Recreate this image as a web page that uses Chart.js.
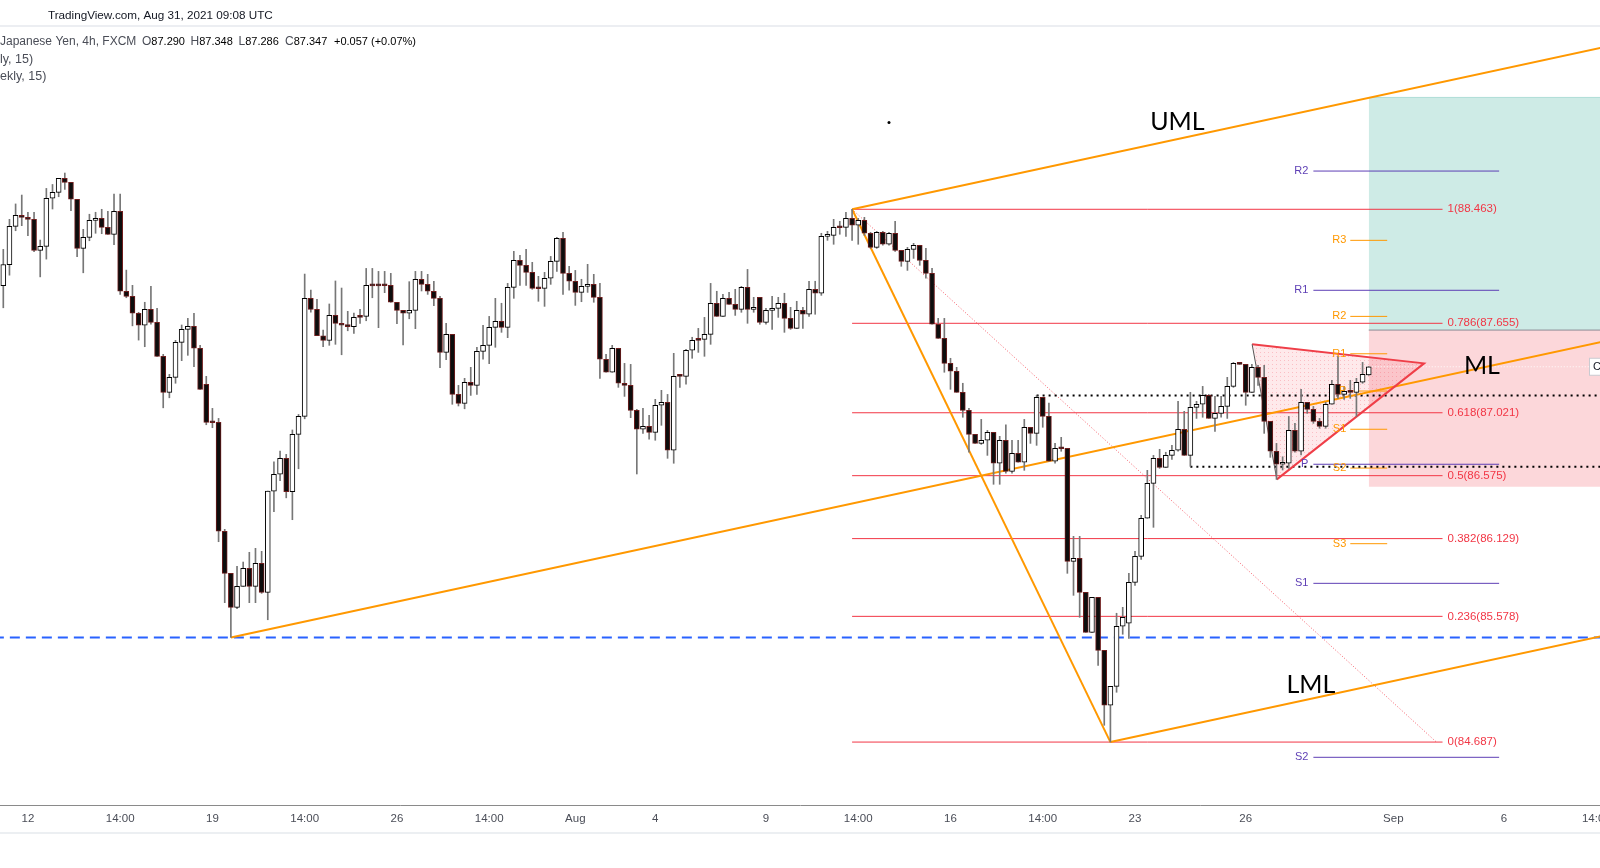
<!DOCTYPE html>
<html><head><meta charset="utf-8">
<script src="https://cdn.jsdelivr.net/npm/chart.js@4.4.1/dist/chart.umd.min.js"></script>
<style>html,body{margin:0;padding:0;background:#fff;overflow:hidden}#wrap{width:1600px;height:868px;position:relative}</style>
</head><body><div id="wrap"><canvas id="c"></canvas></div>
<script>
// ---- candle data (CAD/JPY 4h, FXCM) ----
const OPEN = [87.922,88.070,88.342,88.420,88.406,88.392,88.172,88.200,88.541,88.583,88.682,88.654,88.534,88.186,88.264,88.385,88.399,88.335,88.285,88.449,
87.882,87.846,87.726,87.641,87.754,87.662,87.421,87.166,87.272,87.520,87.612,87.634,87.478,87.223,86.953,86.953,86.181,85.883,85.642,85.791,
85.918,85.791,85.954,85.748,86.466,86.585,86.698,86.461,86.868,86.995,87.832,87.754,87.567,87.534,87.711,87.655,87.641,87.631,87.701,87.704,
87.924,87.924,87.933,87.924,87.804,87.747,87.726,87.747,87.967,87.931,87.882,87.832,87.449,87.577,87.151,87.088,87.237,87.215,87.456,87.499,
87.626,87.669,87.626,87.910,88.101,88.066,88.016,87.903,87.903,87.974,88.094,88.257,88.009,87.953,87.874,87.917,87.931,87.839,87.400,87.308,
87.478,87.230,87.215,87.038,86.904,86.925,86.882,87.074,87.095,86.755,87.286,87.279,87.464,87.541,87.541,87.577,87.797,87.704,87.832,87.789,
87.754,87.910,87.754,87.839,87.662,87.747,87.761,87.797,87.690,87.619,87.747,87.719,87.896,87.868,88.271,88.278,88.335,88.335,88.399,88.350,
88.385,88.293,88.193,88.300,88.215,88.293,88.172,88.094,88.179,88.208,88.101,88.009,87.648,87.548,87.371,87.315,87.166,87.038,86.868,86.804,
86.826,86.882,86.663,86.826,86.606,86.733,86.670,86.918,86.875,87.130,86.995,86.677,86.769,86.769,85.968,85.989,85.748,85.465,85.713,85.337,
84.948,85.082,85.508,85.529,85.819,86.003,86.273,86.521,86.698,86.634,86.719,86.755,86.904,86.719,87.059,87.081,87.144,86.981,87.017,87.066,
87.208,87.371,87.364,87.166,87.343,87.272,86.960,86.748,86.656,86.663,86.896,86.748,87.095,87.045,86.960,86.925,87.081,87.223,87.151,87.173,
87.166,87.237,87.290];
const HIGH = [88.179,88.392,88.501,88.564,88.442,88.442,88.245,88.611,88.639,88.682,88.720,88.654,88.534,88.321,88.428,88.442,88.463,88.449,88.571,88.571,
88.032,87.924,87.733,87.804,87.917,87.761,87.435,87.293,87.534,87.643,87.690,87.726,87.499,87.279,87.052,86.981,86.195,85.883,85.933,85.963,
86.032,86.060,86.039,86.466,86.674,86.750,86.726,86.899,87.009,88.004,87.891,87.825,87.607,87.792,87.955,87.905,87.740,87.728,87.754,88.044,
88.044,88.023,88.023,88.009,87.804,87.747,87.950,88.023,88.023,88.002,87.953,87.846,87.655,87.577,87.215,87.265,87.343,87.485,87.641,87.704,
87.832,87.797,87.938,88.165,88.136,88.179,88.087,87.988,88.016,88.129,88.264,88.300,88.059,88.030,87.967,88.073,88.002,87.938,87.435,87.499,
87.478,87.371,87.364,87.045,87.052,87.002,87.116,87.180,87.151,87.442,87.286,87.471,87.556,87.619,87.697,87.938,87.882,87.860,87.875,87.896,
87.917,88.037,87.839,87.839,87.761,87.846,87.839,87.868,87.768,87.811,87.768,87.953,87.953,88.293,88.307,88.392,88.378,88.442,88.463,88.399,
88.406,88.300,88.307,88.307,88.300,88.378,88.172,88.193,88.222,88.208,88.186,88.044,87.690,87.690,87.407,87.343,87.230,87.052,86.868,86.974,
86.896,86.882,86.854,86.936,86.826,86.826,86.974,86.918,87.144,87.130,87.090,86.804,86.847,86.769,86.145,86.145,85.748,85.713,85.713,85.337,
85.082,85.600,85.642,85.883,86.039,86.294,86.613,86.719,86.762,86.741,86.790,87.102,87.031,87.166,87.102,87.208,87.151,87.137,87.137,87.272,
87.378,87.378,87.364,87.364,87.357,87.357,86.960,86.804,86.709,86.995,86.946,87.187,87.095,87.066,86.981,87.095,87.251,87.423,87.208,87.251,
87.265,87.378,87.348];
const LOW = [87.765,87.996,88.311,88.347,88.276,88.162,87.984,88.110,88.465,88.552,88.604,88.453,88.127,88.013,88.240,88.293,88.290,88.285,88.212,87.860,
87.836,87.637,87.536,87.489,87.648,87.421,87.056,87.127,87.230,87.390,87.428,87.347,87.187,86.936,86.915,86.107,85.675,85.428,85.632,85.791,
85.675,85.675,85.741,85.554,86.320,86.539,86.418,86.263,86.624,86.978,87.733,87.567,87.489,87.499,87.506,87.432,87.602,87.584,87.655,87.673,
87.836,87.624,87.872,87.804,87.652,87.501,87.687,87.617,87.884,87.860,87.780,87.340,87.397,87.081,87.069,87.049,87.144,87.151,87.400,87.369,
87.485,87.591,87.553,87.832,87.924,87.924,87.896,87.811,87.775,87.931,88.023,87.860,87.889,87.782,87.808,87.874,87.804,87.265,87.308,87.308,
87.201,87.137,86.986,86.587,86.875,86.833,86.826,86.932,86.698,86.663,87.201,87.223,87.407,87.449,87.421,87.506,87.704,87.704,87.789,87.711,
87.733,87.655,87.733,87.648,87.648,87.612,87.697,87.591,87.612,87.619,87.619,87.704,87.719,87.853,88.243,88.215,88.286,88.271,88.243,88.215,
88.278,88.186,88.186,88.208,88.208,88.165,88.059,88.030,88.115,88.066,87.974,87.648,87.548,87.308,87.187,87.166,86.989,86.741,86.804,86.797,
86.719,86.514,86.514,86.592,86.592,86.670,86.613,86.804,86.790,86.918,86.677,86.663,86.748,85.883,85.727,85.571,85.465,85.465,85.231,84.806,
84.687,85.040,85.451,85.422,85.798,85.982,86.273,86.209,86.627,86.634,86.691,86.748,86.719,86.641,86.981,86.989,86.981,86.889,86.989,86.981,
87.201,87.364,87.074,87.166,87.215,86.875,86.705,86.549,86.615,86.627,86.741,86.722,87.017,86.946,86.911,86.911,87.081,87.123,87.116,87.123,
86.995,87.230,87.286];
const CLOSE = [88.072,88.342,88.420,88.406,88.392,88.172,88.200,88.541,88.583,88.682,88.654,88.534,88.186,88.264,88.385,88.399,88.335,88.285,88.449,87.882,
87.846,87.726,87.641,87.754,87.662,87.421,87.166,87.272,87.520,87.612,87.634,87.478,87.187,86.953,86.950,86.181,85.883,85.642,85.791,85.918,
85.791,85.954,85.748,86.466,86.585,86.698,86.461,86.868,86.995,87.832,87.754,87.567,87.534,87.711,87.655,87.641,87.631,87.697,87.697,87.924,
87.920,87.920,87.921,87.804,87.747,87.726,87.747,87.967,87.931,87.882,87.832,87.449,87.577,87.151,87.088,87.237,87.215,87.456,87.499,87.626,
87.669,87.626,87.910,88.101,88.066,88.016,87.903,87.900,87.974,88.094,88.257,88.009,87.953,87.874,87.917,87.931,87.839,87.400,87.308,87.478,
87.230,87.215,87.038,86.904,86.925,86.882,87.074,87.095,86.755,87.279,87.279,87.464,87.534,87.534,87.577,87.797,87.704,87.832,87.789,87.754,
87.910,87.754,87.768,87.662,87.747,87.761,87.797,87.690,87.619,87.747,87.719,87.896,87.868,88.271,88.278,88.335,88.332,88.399,88.350,88.385,
88.293,88.193,88.300,88.215,88.293,88.172,88.094,88.179,88.208,88.101,88.009,87.648,87.548,87.371,87.315,87.166,87.038,86.868,86.804,86.826,
86.882,86.663,86.826,86.606,86.733,86.670,86.918,86.875,87.130,86.995,86.677,86.769,86.766,85.968,85.989,85.748,85.465,85.713,85.337,84.948,
85.082,85.508,85.571,85.819,86.003,86.273,86.521,86.698,86.634,86.719,86.755,86.904,86.719,87.059,87.081,87.144,86.981,87.017,87.066,87.208,
87.371,87.364,87.166,87.343,87.272,86.960,86.748,86.656,86.663,86.896,86.748,87.095,87.045,86.960,86.925,87.081,87.223,87.151,87.173,87.166,
87.237,87.293,87.347];

// ---- time axis ticks (candle index -> label) ----
const TICK_POS = [4, 19, 34, 49, 64, 79, 93, 106, 124, 139, 154, 169, 184, 202, 226, 244, 259];
const TICK_LABELS = ['12','14:00','19','14:00','26','14:00','Aug','4','9','14:00','16','14:00','23','26','Sep','6','14:00'];

// ---- drawing tools ----
const PF_X = [37, 138, 180];              // pitchfork anchors (candle index)
const PF_Y = [85.428, 88.463, 84.687];    // pitchfork anchors (price)
const FIB_LEVELS = [1, 0.786, 0.618, 0.5, 0.382, 0.236, 0];
const FIB_PRICES = [88.463, 87.655, 87.021, 86.575, 86.129, 85.578, 84.687];
const FIB_X = [138, 234];
const FIB_TREND = [[138, 88.463], [233, 84.687]];
const WPIV_NAMES = ['R2', 'R1', 'P', 'S1', 'S2'];
const WPIV_VALUES = [88.734, 87.889, 86.656, 85.812, 84.579];
const WPIV_X = [213, 243.2];
const DPIV_NAMES = ['R3', 'R2', 'R1', 'P', 'S1', 'S2', 'S3'];
const DPIV_VALUES = [88.243, 87.704, 87.439, 87.175, 86.904, 86.629, 86.093];
const DPIV_X = [219, 225];
const DOT_LEVELS = [87.143, 86.638];
const DOT_START = [168, 193];
const SUPPORT = 85.428;
const TRI_X = [203.04, 231.0, 207.06];
const TRI_Y = [87.506, 87.371, 86.549];
const POS_X = 222;
const POS_ENTRY = 87.607, POS_TP = 89.256, POS_SL = 86.497;
const LAST_PRICE = 87.347;
const TEXT_LABELS = [['UML', 190.9, 89.081], ['ML', 240.4, 87.352], ['LML', 212.6, 85.091]];
const DOT_MARK = [144.0, 89.079];
const LEGEND_TITLE = 'Japanese Yen, 4h, FXCM';
const LEGEND_KEYS = ['O', 'H', 'L', 'C'];
const LEGEND_VALUES = ['87.290', '87.348', '87.286', '87.347'];
const LEGEND_CHANGE = '+0.057 (+0.07%)';

const XMIN = -0.537, XMAX = 259.6, XEND = 264;
const YMIN = 84.241, YMAX = 89.755;
const FONT = '"Liberation Sans", Arial, sans-serif';

const idx = CLOSE.map((_, i) => i);
const up = idx.map(i => CLOSE[i] >= OPEN[i]);

function seg(points, color, width, dash, order, extra) {
  return Object.assign({type: 'line', data: points.map(p => ({x: p[0], y: p[1]})), borderColor: color,
    borderWidth: width, borderDash: dash || [], pointRadius: 0, pointHoverRadius: 0, fill: false,
    tension: 0, order: order}, extra || {});
}

function triPattern() {
  const c = document.createElement('canvas'); c.width = 4; c.height = 4;
  const g = c.getContext('2d');
  g.fillStyle = 'rgba(242,54,69,0.11)'; g.fillRect(0, 0, 4, 4);
  g.fillStyle = 'rgba(242,54,69,0.24)'; g.fillRect(0, 0, 1, 1);
  return g.createPattern(c, 'repeat');
}

const ds = [];
// position boxes
ds.push(seg([[POS_X, POS_TP], [XEND, POS_TP]], 'rgba(8,153,129,0.25)', 1, [], 30, {fill: {value: POS_ENTRY}, backgroundColor: 'rgba(8,153,129,0.2)'}));
ds.push(seg([[POS_X, POS_SL], [XEND, POS_SL]], 'rgba(0,0,0,0)', 0, [], 30, {fill: {value: POS_ENTRY}, backgroundColor: 'rgba(242,54,69,0.2)'}));
// triangle fill
ds.push(seg([[TRI_X[0], TRI_Y[0]], [TRI_X[1], TRI_Y[1]], [TRI_X[2], TRI_Y[2]], [TRI_X[0], TRI_Y[0]]], 'rgba(0,0,0,0)', 0, [], 29, {fill: 'shape', backgroundColor: triPattern()}));
// entry + last price
ds.push(seg([[POS_X, POS_ENTRY], [XEND, POS_ENTRY]], '#8a8d96', 1, [], 20));
ds.push(seg([[POS_X, LAST_PRICE], [XEND, LAST_PRICE]], 'rgba(255,255,255,0.95)', 1, [1, 2], 20));
// fib
FIB_PRICES.forEach(p => ds.push(seg([[FIB_X[0], p], [FIB_X[1], p]], '#f23645', 1, [], 18)));
ds.push(seg(FIB_TREND, 'rgba(242,54,69,0.8)', 1, [1, 2], 18));
// pivots
WPIV_VALUES.forEach(p => ds.push(seg([[WPIV_X[0], p], [WPIV_X[1], p]], '#5e3fb5', 1, [], 17)));
DPIV_VALUES.forEach(p => ds.push(seg([[DPIV_X[0], p], [DPIV_X[1], p]], '#ff9800', 1, [], 17)));
// black dotted levels
DOT_LEVELS.forEach((p, k) => ds.push(seg([[DOT_START[k], p], [XEND, p]], '#000000', 2, [2, 4], 16)));
// blue support
ds.push(seg([[XMIN - 1, SUPPORT], [XEND, SUPPORT]], '#2962ff', 2, [10, 6], 15));
// pitchfork
const midX = (PF_X[1] + PF_X[2]) / 2, midY = (PF_Y[1] + PF_Y[2]) / 2;
const slope = (midY - PF_Y[0]) / (midX - PF_X[0]);
const pfLine = k => [[PF_X[k], PF_Y[k]], [XEND, PF_Y[k] + slope * (XEND - PF_X[k])]];
ds.push(seg(pfLine(0), '#ff9800', 2, [], 14));
ds.push(seg(pfLine(1), '#ff9800', 2, [], 14));
ds.push(seg(pfLine(2), '#ff9800', 2, [], 14));
ds.push(seg([[PF_X[1], PF_Y[1]], [PF_X[2], PF_Y[2]]], '#ff9800', 2, [], 14));
// triangle edges
ds.push(seg([[TRI_X[0], TRI_Y[0]], [TRI_X[2], TRI_Y[2]]], '#555555', 1, [], 13));
ds.push(seg([[TRI_X[0], TRI_Y[0]], [TRI_X[1], TRI_Y[1]], [TRI_X[2], TRI_Y[2]]], '#ef3e48', 2, [], 13));
// candles
ds.push({type: 'bar', data: idx.map(i => ({x: i, y: [LOW[i], HIGH[i]]})), backgroundColor: '#777777',
  barThickness: 1, grouped: false, order: 1, minBarLength: 1});
ds.push({type: 'bar', data: idx.map(i => ({x: i, y: [Math.min(OPEN[i], CLOSE[i]), Math.max(OPEN[i], CLOSE[i])]})),
  backgroundColor: idx.map(i => up[i] ? '#ffffff' : '#0d0d0d'),
  borderColor: idx.map(i => up[i] ? '#000000' : '#6e1c1c'),
  borderWidth: 1, borderSkipped: false, barThickness: 5, grouped: false, order: 0, minBarLength: 2});

const deco = {
  id: 'deco',
  afterDatasetsDraw(chart) {
    const {ctx, scales: {x, y}} = chart;
    ctx.save();
    ctx.textBaseline = 'middle';
    // fib labels
    ctx.font = '11.5px ' + FONT; ctx.fillStyle = '#f23645'; ctx.textAlign = 'left';
    FIB_LEVELS.forEach((lv, k) => ctx.fillText(lv + '(' + FIB_PRICES[k].toFixed(3) + ')', x.getPixelForValue(FIB_X[1]) + 5, y.getPixelForValue(FIB_PRICES[k])));
    // pivot labels
    ctx.font = '11px ' + FONT; ctx.textAlign = 'right';
    ctx.fillStyle = '#5e3fb5';
    WPIV_NAMES.forEach((n, k) => ctx.fillText(n, x.getPixelForValue(WPIV_X[0]) - 5, y.getPixelForValue(WPIV_VALUES[k])));
    ctx.fillStyle = '#ff9800';
    DPIV_NAMES.forEach((n, k) => ctx.fillText(n, x.getPixelForValue(DPIV_X[0]) - 4, y.getPixelForValue(DPIV_VALUES[k])));
    // big labels
    ctx.font = '25px Lato, ' + FONT; ctx.fillStyle = '#000000'; ctx.textAlign = 'center';
    TEXT_LABELS.forEach(t => ctx.fillText(t[0], x.getPixelForValue(t[1]), y.getPixelForValue(t[2])));
    // dot
    ctx.beginPath(); ctx.arc(x.getPixelForValue(DOT_MARK[0]), y.getPixelForValue(DOT_MARK[1]), 1.5, 0, Math.PI * 2); ctx.fill();
    // price tag at the right edge
    const py = y.getPixelForValue(LAST_PRICE);
    ctx.fillStyle = '#ffffff'; ctx.strokeStyle = '#c9cbd1'; ctx.lineWidth = 1;
    ctx.fillRect(1589.5, py - 8.5, 14, 17); ctx.strokeRect(1589.5, py - 8.5, 14, 17);
    ctx.fillStyle = '#131722'; ctx.font = '11px ' + FONT; ctx.textAlign = 'left';
    ctx.fillText('C', 1593, py);
    ctx.restore();
  },
  afterDraw(chart) {
    const ctx = chart.ctx;
    ctx.save();
    ctx.fillStyle = '#eceef2'; ctx.fillRect(0, 25, 1600, 2);
    ctx.fillStyle = '#eceff2'; ctx.fillRect(0, 832, 1600, 2);
    ctx.textBaseline = 'middle'; ctx.textAlign = 'left';
    ctx.font = '11.7px ' + FONT; ctx.fillStyle = '#131722';
    ctx.fillText('TradingView.com, Aug 31, 2021 09:08 UTC', 48, 15.5);
    ctx.font = '12px ' + FONT; ctx.fillStyle = '#4a4d57';
    ctx.fillText(LEGEND_TITLE, 0, 42);
    const keyX = [142, 190.5, 238.5, 285];
    LEGEND_KEYS.forEach((k, j) => {
      ctx.font = '12px ' + FONT; ctx.fillStyle = '#4a4d57'; ctx.fillText(k, keyX[j], 42);
      const w = ctx.measureText(k).width;
      ctx.font = '11px ' + FONT; ctx.fillStyle = '#000000'; ctx.fillText(LEGEND_VALUES[j], keyX[j] + w, 42);
    });
    ctx.font = '11px ' + FONT; ctx.fillStyle = '#000000'; ctx.fillText(LEGEND_CHANGE, 334, 42);
    ctx.font = '12.5px ' + FONT; ctx.fillStyle = '#4a4d57';
    ctx.fillText('ly, 15)', 0, 59.5);
    ctx.fillText('ekly, 15)', 0, 76.5);
    ctx.restore();
  }
};

new Chart(document.getElementById('c'), {
  type: 'bar',
  data: {datasets: ds},
  options: {
    responsive: true, maintainAspectRatio: false, animation: false,
    layout: {padding: {top: 27, bottom: 35, left: 0, right: 0}},
    plugins: {legend: {display: false}, tooltip: {enabled: false}},
    scales: {
      x: {type: 'linear', min: XMIN, max: XMAX, offset: false,
        grid: {display: false, drawTicks: false, offset: false},
        border: {display: true, color: '#8a8a8a', width: 1},
        ticks: {autoSkip: false, maxRotation: 0, padding: 7, color: '#4a4d57', font: {family: FONT, size: 11.5},
          callback: (v, i) => TICK_LABELS[i]},
        afterBuildTicks: s => { s.ticks = TICK_POS.map(v => ({value: v})); },
        afterFit: s => { s.height = 28; s.paddingLeft = 0; s.paddingRight = 0; }
      },
      y: {display: false, min: YMIN, max: YMAX}
    }
  },
  plugins: [deco]
});
</script></body></html>
